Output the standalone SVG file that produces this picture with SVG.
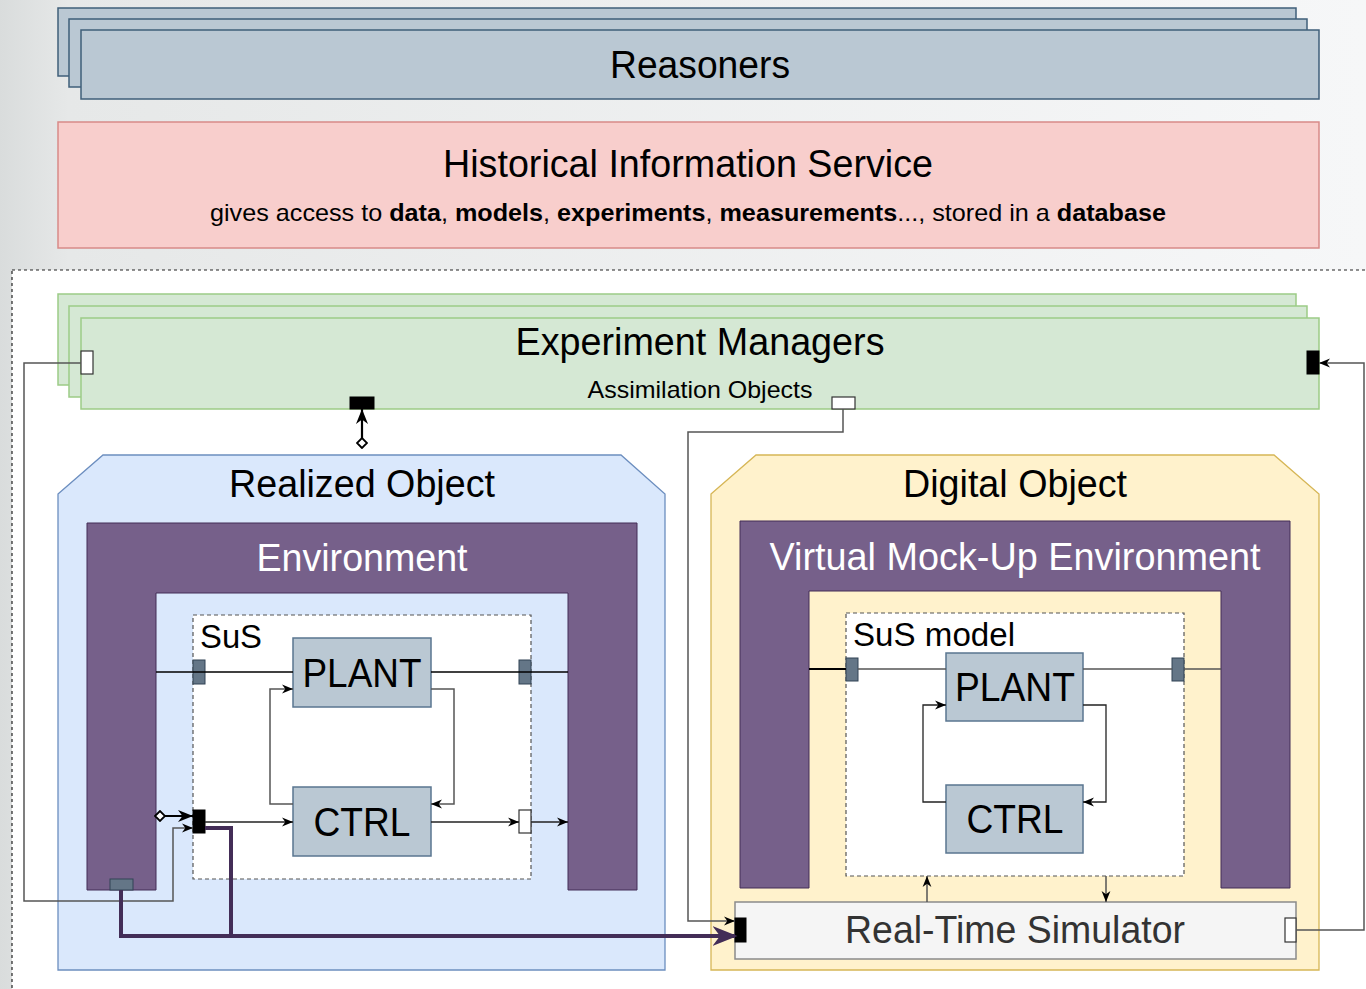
<svg xmlns="http://www.w3.org/2000/svg" width="1366" height="989" viewBox="0 0 1366 989">
  <defs>
    <linearGradient id="bg" x1="0" y1="0" x2="1" y2="0">
      <stop offset="0" stop-color="#d9dcdc"/>
      <stop offset="0.05" stop-color="#e6e8e8"/>
      <stop offset="1" stop-color="#f6f7f8"/>
    </linearGradient>
    <marker id="arr" viewBox="0 0 10 10" refX="10" refY="5" markerWidth="11" markerHeight="11" markerUnits="userSpaceOnUse" orient="auto">
      <path d="M0,1 L10,5 L0,9 L3,5 Z" fill="#000"/>
    </marker>
    <marker id="arrBold" viewBox="0 0 10 10" refX="10" refY="5" markerWidth="15" markerHeight="15" markerUnits="userSpaceOnUse" orient="auto">
      <path d="M0,1 L10,5 L0,9 L3,5 Z" fill="#000"/>
    </marker>
    <marker id="arrPurple" viewBox="0 0 10 10" refX="9" refY="5" markerWidth="25" markerHeight="25" markerUnits="userSpaceOnUse" orient="auto">
      <path d="M0,1 L10,5 L0,9 L3,5 Z" fill="#432d57"/>
    </marker>
    <marker id="dia" viewBox="0 0 12 12" refX="1" refY="6" markerWidth="12" markerHeight="12" markerUnits="userSpaceOnUse" orient="auto">
      <path d="M1,6 L6,1 L11,6 L6,11 Z" fill="#fff" stroke="#000" stroke-width="1.8"/>
    </marker>
    <style>
      .t { font-family: "Liberation Sans", Arial, sans-serif; fill: #000; }
      .blk { fill: #bac8d3; stroke: #5a7690; stroke-width: 1.5; }
      .rs { fill: #bac8d3; stroke: #3f5f7a; stroke-width: 1.5; }
      .em { fill: #d5e8d4; stroke: #9ccb86; stroke-width: 1.5; }
      .env { fill: #76608a; stroke: #432d57; stroke-width: 1; }
      .sus { fill: #fff; stroke: #555; stroke-width: 1.2; stroke-dasharray: 4 3; }
      .pg { fill: #647687; stroke: #314354; stroke-width: 1; }
      .pb { fill: #000; stroke: #000; stroke-width: 1; }
      .pw { fill: #fff; stroke: #333; stroke-width: 1.2; }
      .ln { fill: none; stroke: #222; stroke-width: 1.3; }
      .lg { fill: none; stroke: #555; stroke-width: 1.5; }
    </style>
  </defs>

  <!-- page background -->
  <rect x="0" y="0" width="1366" height="989" fill="url(#bg)"/>
  <rect x="12" y="270" width="1360" height="730" fill="#fff" stroke="#222" stroke-width="1.2" stroke-dasharray="3 3"/>

  <!-- Reasoners (stacked) -->
  <g id="reasoners">
    <rect class="rs" x="58" y="8" width="1238" height="68"/>
    <rect class="rs" x="69" y="19" width="1238" height="68"/>
    <rect class="rs" x="81" y="30" width="1238" height="69"/>
    <text class="t" x="700" y="78" font-size="38" text-anchor="middle" textLength="180" lengthAdjust="spacingAndGlyphs">Reasoners</text>
  </g>

  <!-- Historical Information Service -->
  <g id="historical">
    <rect x="58" y="122" width="1261" height="126" fill="#f8cecc" stroke="#d88a88" stroke-width="1.5"/>
    <text class="t" x="688" y="177" font-size="38" text-anchor="middle" textLength="490" lengthAdjust="spacingAndGlyphs">Historical Information Service</text>
    <text class="t" x="688" y="221" font-size="24" text-anchor="middle" textLength="956" lengthAdjust="spacingAndGlyphs">gives access to <tspan font-weight="bold">data</tspan>, <tspan font-weight="bold">models</tspan>, <tspan font-weight="bold">experiments</tspan>, <tspan font-weight="bold">measurements</tspan>..., stored in a <tspan font-weight="bold">database</tspan></text>
  </g>

  <!-- Experiment Managers (stacked) -->
  <g id="experiment-managers">
    <rect class="em" x="58" y="294" width="1238" height="91"/>
    <rect class="em" x="69" y="306" width="1238" height="91"/>
    <rect class="em" x="81" y="318" width="1238" height="91"/>
    <text class="t" x="700" y="355" font-size="38" text-anchor="middle" textLength="369" lengthAdjust="spacingAndGlyphs">Experiment Managers</text>
    <text class="t" x="700" y="398" font-size="24" text-anchor="middle" textLength="225" lengthAdjust="spacingAndGlyphs">Assimilation Objects</text>
    <rect class="pw" x="81" y="351" width="12" height="23"/>
    <rect class="pb" x="1307" y="351" width="12" height="23"/>
    <rect class="pb" x="350" y="397" width="24" height="12"/>
    <rect class="pw" x="832" y="397" width="23" height="12"/>
  </g>

  <!-- Realized Object -->
  <g id="realized-object">
    <path d="M58,494 L103,455 L621,455 L665,494 L665,970 L58,970 Z" fill="#dae8fc" stroke="#6c8ebf" stroke-width="1.3"/>
    <text class="t" x="362" y="497" font-size="38" text-anchor="middle" textLength="266" lengthAdjust="spacingAndGlyphs">Realized Object</text>
  </g>

  <g id="environment">
    <path class="env" d="M87,523 H637 V890 H568 V593 H156 V890 H87 Z"/>
    <text class="t" x="362" y="571" font-size="38" text-anchor="middle" style="fill:#fff" textLength="211" lengthAdjust="spacingAndGlyphs">Environment</text>
    <rect class="pg" x="110" y="879" width="23" height="11"/>
  </g>

  <g id="sus">
    <rect class="sus" x="193" y="615" width="338" height="264"/>
    <text class="t" x="200" y="648" font-size="34" textLength="62" lengthAdjust="spacingAndGlyphs">SuS</text>
    <rect class="pg" x="193" y="660" width="12" height="24"/>
    <rect class="pg" x="519" y="660" width="12" height="24"/>
    <rect class="pb" x="193" y="810" width="12" height="23"/>
    <rect class="pw" x="519" y="810" width="12" height="23"/>
  </g>

  <g id="plant-real">
    <rect class="blk" x="293" y="638" width="138" height="69"/>
    <text class="t" x="362" y="687" font-size="40" text-anchor="middle" textLength="119" lengthAdjust="spacingAndGlyphs">PLANT</text>
  </g>

  <g id="ctrl-real">
    <rect class="blk" x="293" y="787" width="138" height="69"/>
    <text class="t" x="362" y="836" font-size="40" text-anchor="middle" textLength="97" lengthAdjust="spacingAndGlyphs">CTRL</text>
  </g>

  <!-- Digital Object -->
  <g id="digital-object">
    <path d="M711,494 L756,455 L1274,455 L1319,494 L1319,970 L711,970 Z" fill="#fff2cc" stroke="#d6b656" stroke-width="1.3"/>
    <text class="t" x="1015" y="497" font-size="38" text-anchor="middle" textLength="224" lengthAdjust="spacingAndGlyphs">Digital Object</text>
  </g>

  <g id="virtual-environment">
    <path class="env" d="M740,521 H1290 V888 H1221 V591 H809 V888 H740 Z"/>
    <text class="t" x="1015" y="570" font-size="38" text-anchor="middle" style="fill:#fff" textLength="491" lengthAdjust="spacingAndGlyphs">Virtual Mock-Up Environment</text>
  </g>

  <g id="sus-model">
    <rect class="sus" x="846" y="613" width="338" height="263"/>
    <text class="t" x="853" y="646" font-size="34" textLength="162" lengthAdjust="spacingAndGlyphs">SuS model</text>
    <rect class="pg" x="846" y="658" width="12" height="23"/>
    <rect class="pg" x="1172" y="658" width="12" height="23"/>
  </g>

  <g id="plant-model">
    <rect class="blk" x="946" y="653" width="137" height="68"/>
    <text class="t" x="1015" y="701" font-size="40" text-anchor="middle" textLength="120" lengthAdjust="spacingAndGlyphs">PLANT</text>
  </g>

  <g id="ctrl-model">
    <rect class="blk" x="946" y="785" width="137" height="68"/>
    <text class="t" x="1015" y="833" font-size="40" text-anchor="middle" textLength="97" lengthAdjust="spacingAndGlyphs">CTRL</text>
  </g>

  <g id="real-time-simulator">
    <rect x="735" y="902" width="561" height="57" fill="#f5f5f5" stroke="#8a8a8a" stroke-width="1.5"/>
    <text class="t" x="1015" y="943" font-size="38" text-anchor="middle" style="fill:#333" textLength="340" lengthAdjust="spacingAndGlyphs">Real-Time Simulator</text>
    <rect class="pb" x="735" y="918" width="11" height="24"/>
    <rect class="pw" x="1285" y="918" width="11" height="24"/>
  </g>

  <!-- connectors -->
  <g id="connectors">
    <!-- experiment managers <-> realized object -->
    <line x1="362" y1="448" x2="362" y2="409" stroke="#000" stroke-width="2.2" marker-start="url(#dia)" marker-end="url(#arrBold)"/>
    <!-- experiment managers (left port) -> SuS input -->
    <path class="lg" d="M81,363 H24 V901 H173 V828 H193" marker-end="url(#arr)"/>
    <!-- assimilation objects -> real-time simulator -->
    <path class="lg" d="M843,409 V432 H688 V921 H735" marker-end="url(#arr)"/>
    <!-- real-time simulator -> experiment managers (right port) -->
    <path class="lg" d="M1296,930 H1364 V363 H1319" marker-end="url(#arr)"/>

    <!-- realized object internals -->
    <line x1="156" y1="672" x2="293" y2="672" stroke="#000" stroke-width="1.5"/>
    <line x1="431" y1="672" x2="568" y2="672" stroke="#000" stroke-width="1.3"/>
    <path class="lg" d="M431,689 H454 V804 H431" marker-end="url(#arr)"/>
    <path class="lg" d="M293,804 H270 V689 H293" marker-end="url(#arr)"/>
    <path class="ln" d="M431,822 H519" marker-end="url(#arr)"/>
    <path class="ln" d="M531,822 H568" marker-end="url(#arr)"/>
    <path class="ln" d="M205,822 H293" marker-end="url(#arr)"/>
    <line x1="155" y1="816" x2="193" y2="816" stroke="#000" stroke-width="2.2" marker-start="url(#dia)" marker-end="url(#arrBold)"/>

    <!-- recorded data to the simulator -->
    <path d="M121,890 V936 H735" fill="none" stroke="#432d57" stroke-width="4" marker-end="url(#arrPurple)"/>
    <path d="M205,828 H231 V936" fill="none" stroke="#432d57" stroke-width="4"/>

    <!-- digital object internals -->
    <line x1="809" y1="669" x2="846" y2="669" stroke="#000" stroke-width="2"/>
    <line x1="858" y1="669" x2="946" y2="669" stroke="#555" stroke-width="1.5"/>
    <line x1="1083" y1="669" x2="1172" y2="669" stroke="#555" stroke-width="1.5"/>
    <line x1="1184" y1="669" x2="1221" y2="669" stroke="#555" stroke-width="1.5"/>
    <path class="ln" d="M946,802 H923 V705 H946" marker-end="url(#arr)"/>
    <path class="ln" d="M1083,705 H1106 V802 H1083" marker-end="url(#arr)"/>
    <path class="lg" d="M927,902 V876" marker-end="url(#arr)"/>
    <path class="lg" d="M1106,876 V902" marker-end="url(#arr)"/>
  </g>
</svg>
